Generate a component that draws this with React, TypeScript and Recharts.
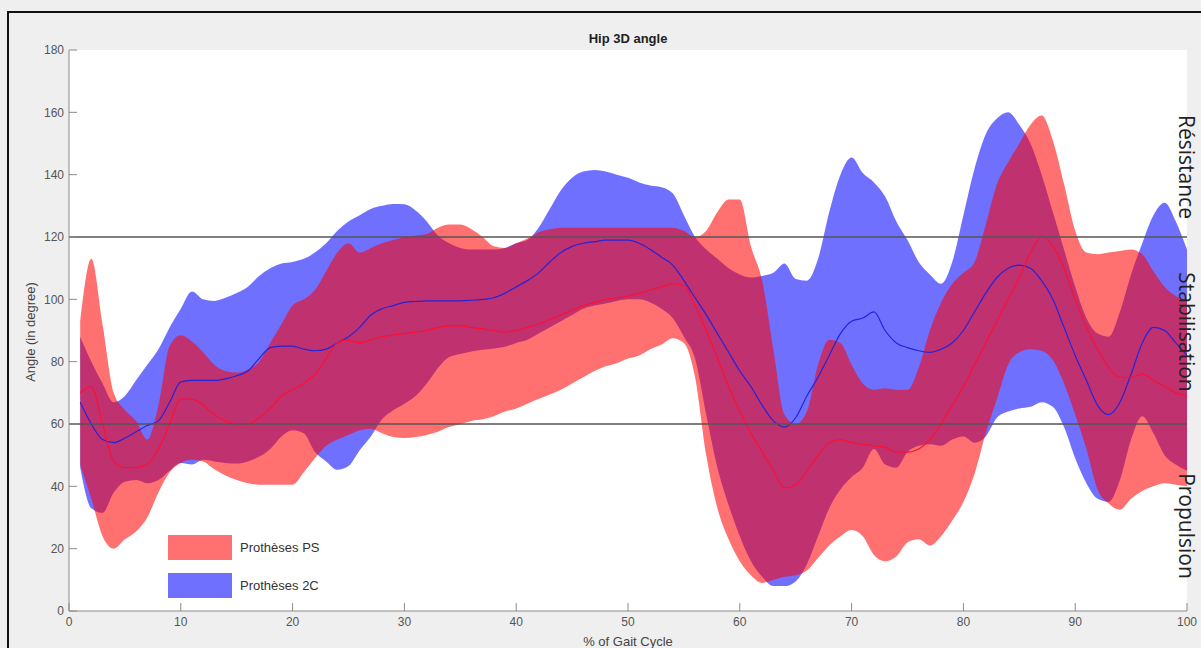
import React from 'react';
import {
  ComposedChart,
  Area,
  Line,
  XAxis,
  YAxis,
  CartesianGrid,
  ReferenceLine,
  Legend,
} from 'recharts';

// % of gait cycle
const pct = [
  1, 2, 3, 4, 5, 6, 7, 8, 9, 10,
  11, 12, 13, 14, 15, 16, 17, 18, 19, 20,
  21, 22, 23, 24, 25, 26, 27, 28, 29, 30,
  31, 32, 33, 34, 35, 36, 37, 38, 39, 40,
  41, 42, 43, 44, 45, 46, 47, 48, 49, 50,
  51, 52, 53, 54, 55, 56, 57, 58, 59, 60,
  61, 62, 63, 64, 65, 66, 67, 68, 69, 70,
  71, 72, 73, 74, 75, 76, 77, 78, 79, 80,
  81, 82, 83, 84, 85, 86, 87, 88, 89, 90,
  91, 92, 93, 94, 95, 96, 97, 98, 99, 100,
];

// Prothèses PS : upper / lower envelope and mean
const psHigh = [
  93, 113, 92, 70, 64.5, 61, 55, 66, 85, 88.5,
  86.5, 83, 79, 77, 76.5, 77.5, 80, 86, 92, 98,
  100, 103, 109, 115, 118, 115, 116.5, 118, 119, 120,
  120.5, 121, 123, 124, 124, 122.5, 120, 117, 116.5, 118,
  119.5, 121.5, 122.5, 123, 123, 123, 123, 123, 123, 123,
  123, 123, 123, 123, 122, 120, 122, 128, 132, 132,
  117, 106, 84, 63, 60, 64, 79, 87, 86, 79,
  73, 71, 71.5, 71, 71, 78, 90, 99, 105, 108.5,
  112, 124, 137, 144, 150, 156, 159, 151, 137, 122,
  115, 114.5, 115, 115.5, 116, 114.5, 109, 104, 101, 100,
];
const psLow = [
  47, 36, 24, 20, 23, 25.5, 30, 38, 44.5, 47.5,
  48.5, 48, 45.5, 43.5, 42, 41, 40.5, 40.5, 40.5, 40.5,
  44.5, 49, 53, 55, 56.5, 58, 58.5, 57, 55.8, 55.5,
  55.8, 56.5, 57.5, 59, 60, 61, 61.5, 62.5, 64, 65,
  66.5, 68, 69.5, 71, 73, 75, 77, 78.5, 79.5, 81,
  82, 84, 85.5, 87.5, 86, 75, 50, 33, 23, 16,
  11.5, 9, 10, 11, 11.5, 13, 17, 21, 24, 26,
  24, 18, 16, 17.5, 22, 23, 21, 24, 29, 35,
  44, 57, 68, 79, 83, 84, 83.5, 80.5, 73, 63,
  52, 39, 34.5, 32.5, 36, 38.5, 40, 41, 40.5, 40,
];
const psMean = [
  70, 72, 60, 48, 46, 46, 47, 52, 60, 68,
  68, 66, 63, 61, 60, 60, 62, 65, 69, 71,
  73, 76, 81, 86, 87, 86, 87, 88, 88.5, 89,
  89.5, 90, 91, 91.5, 91.5, 91, 90.5, 90, 89.5, 90,
  91, 92, 93.5, 95, 96.5, 98, 99, 100, 100.5, 101,
  102, 103, 104, 105, 104.5, 98, 90, 81, 72, 64,
  57, 51, 45, 39.5, 40.5, 45, 50, 54, 55, 54,
  53.5, 53, 52.5, 51, 51, 52, 55, 60, 66, 72,
  79, 86, 93, 100, 107, 115, 120, 117, 110, 100,
  91, 84, 78, 75, 75, 76, 74, 72, 70, 69,
];

// Prothèses 2C : upper / lower envelope and mean
const c2High = [
  88, 80, 73, 67, 69, 74, 79, 84, 91, 97,
  102.5, 100, 99.5, 100.5, 102, 104, 107.5, 110, 111.5, 112,
  113, 115, 118, 122, 125, 127, 129, 130, 130.6, 130.5,
  128.5, 125, 120.5, 118, 116.5, 116, 116, 116, 116.5, 118,
  119, 123, 129, 135, 139, 141, 141.5, 141, 140, 139,
  137.5, 136.5, 136, 134, 127, 120, 116, 113, 110, 108,
  107, 107.5, 108.5, 111.5, 106.5, 106, 113, 128, 140, 145.5,
  140.5, 137.5, 133, 125, 119, 112, 108, 105, 112, 127,
  142, 153, 158, 160, 156, 150, 140, 128, 116, 104,
  94, 89, 88, 96, 108, 118, 127, 131, 125, 116,
];
const c2Low = [
  46, 33, 31.5, 38, 41.5, 42, 41, 42, 45, 47.5,
  47, 48.5, 48, 47.5, 47.3, 48, 49.5, 52, 56, 58,
  57, 51, 48, 45.3, 46.5, 51.6, 56, 61.5, 64.4, 66.5,
  69, 73, 78, 81.5, 82.5, 83.3, 83.8, 84.2, 84.8, 86,
  87, 89, 91, 93, 95, 97, 98, 98.7, 99.5, 100,
  100, 99, 97, 94, 88, 81, 63, 46, 34, 24,
  16, 11, 8, 8, 9.5, 15, 24, 33, 39, 43,
  46, 52, 47, 46, 51, 53, 53.5, 53, 55, 56,
  54, 56, 62, 64, 65, 65.5, 67, 65.5, 59, 49,
  41, 36, 35, 42, 55, 62.5, 57, 50, 47, 45,
];
const c2Mean = [
  67, 60, 55, 54, 55.5, 57.5, 59.5, 61, 67, 73.5,
  74, 74, 74, 74.5, 75.5, 77, 81, 84.5, 85, 85,
  84, 83.5, 84, 86, 88, 91, 95, 97, 98, 99,
  99.3, 99.5, 99.5, 99.5, 99.5, 99.7, 100, 100.5, 102, 104,
  106, 108.5, 112, 115, 117, 118, 118.5, 119, 119, 119,
  118, 116, 113.5, 111, 106, 100.5, 95, 89, 83, 77,
  72, 66, 61, 59, 62, 69, 75, 82, 89, 93,
  94, 96, 90, 86, 84.5, 83.5, 83, 84, 86, 90,
  96, 102, 107, 110, 111, 110, 106, 100, 91, 82,
  74, 66, 63, 67, 76, 86, 91, 90, 86, 82,
];

const xTicks = [0, 10, 20, 30, 40, 50, 60, 70, 80, 90, 100];
const yTicks = [0, 20, 40, 60, 80, 100, 120, 140, 160, 180];
const phaseLines = [120, 60];
const phases = [
  { label: 'Résistance', y: 167 },
  { label: 'Stabilisation', y: 332 },
  { label: 'Propulsion', y: 526 },
];

const PS_COLOR = '#ff0000';
const C2_COLOR = '#0000ff';

const data = pct.map((p, i) => ({
  pct: p,
  psRange: [psLow[i], psHigh[i]],
  c2Range: [c2Low[i], c2High[i]],
  psMean: psMean[i],
  c2Mean: c2Mean[i],
}));

const tickStyle = { fill: '#555', fontSize: 12 };

function LegendBox(props: any) {
  const items = (props.payload || []).filter((p: any) => p.type !== 'none');
  return (
    <div>
      {items.map((item: any) => (
        <div key={item.value} style={{ display: 'flex', alignItems: 'center', height: 25, marginBottom: 13 }}>
          <div
            style={{
              width: 64,
              height: 25,
              background: item.dataKey === 'psRange' ? PS_COLOR : C2_COLOR,
              opacity: 0.56,
            }}
          />
          <span style={{ marginLeft: 8, fontSize: 13, color: '#333' }}>{item.value}</span>
        </div>
      ))}
    </div>
  );
}

export default function App() {
  return (
    <div
      style={{
        position: 'relative',
        width: 1201,
        height: 648,
        overflow: 'hidden',
        background: '#efefef',
        fontFamily: '"Liberation Sans", Arial, sans-serif',
      }}
    >
      <style>{'body { margin: 0; }'}</style>
      <div
        style={{
          position: 'absolute',
          left: 7,
          top: 11,
          width: 1300,
          height: 800,
          borderLeft: '2px solid #111',
          borderTop: '2px solid #111',
        }}
      />
      <ComposedChart
        width={1201}
        height={648}
        data={data}
        margin={{ top: 50, right: 14, bottom: 12, left: 29 }}
      >
        <CartesianGrid horizontal={false} vertical={false} fill="#ffffff" />
        <XAxis
          dataKey="pct"
          type="number"
          domain={[0, 100]}
          ticks={xTicks}
          height={25}
          tick={tickStyle}
          tickSize={-8}
          tickMargin={14}
          axisLine={{ stroke: '#8a8a8a' }}
          tickLine={{ stroke: '#8a8a8a' }}
          allowDataOverflow
        />
        <YAxis
          type="number"
          domain={[0, 180]}
          ticks={yTicks}
          width={40}
          tick={tickStyle}
          tickSize={-8}
          tickMargin={13}
          axisLine={{ stroke: '#8a8a8a' }}
          tickLine={{ stroke: '#8a8a8a' }}
          allowDataOverflow
        />
        <Area
          type="monotone"
          dataKey="c2Range"
          name="Prothèses 2C"
          stroke="none"
          fill={C2_COLOR}
          fillOpacity={0.56}
          isAnimationActive={false}
        />
        <Line
          type="monotone"
          dataKey="c2Mean"
          stroke="#2424d8"
          strokeWidth={1.2}
          dot={false}
          legendType="none"
          isAnimationActive={false}
        />
        <Area
          type="monotone"
          dataKey="psRange"
          name="Prothèses PS"
          stroke="none"
          fill={PS_COLOR}
          fillOpacity={0.56}
          isAnimationActive={false}
        />
        <Line
          type="monotone"
          dataKey="psMean"
          stroke="#ff1030"
          strokeWidth={1.2}
          dot={false}
          legendType="none"
          isAnimationActive={false}
        />
        {phaseLines.map((v) => (
          <ReferenceLine key={v} y={v} stroke="#555" strokeWidth={1.5} />
        ))}
        <Legend
          layout="vertical"
          align="center"
          verticalAlign="middle"
          wrapperStyle={{ left: 168, top: 535, width: 220, height: 80 }}
          content={<LegendBox />}
          itemSorter={(item: any) => (item.dataKey === 'psRange' ? 0 : 1)}
        />
      </ComposedChart>
      <svg
        width={1201}
        height={648}
        style={{ position: 'absolute', left: 0, top: 0, pointerEvents: 'none' }}
      >
        <text x={628} y={38} textAnchor="middle" dominantBaseline="central" fontSize={13} fontWeight="bold" fill="#222">
          Hip 3D angle
        </text>
        <text x={628} y={646} textAnchor="middle" fontSize={13} fill="#444">
          % of Gait Cycle
        </text>
        <text
          transform="translate(30,332) rotate(-90)"
          textAnchor="middle"
          dominantBaseline="central"
          fontSize={13}
          fill="#444"
        >
          Angle (in degree)
        </text>
        {phases.map((p) => (
          <text
            key={p.label}
            transform={`translate(1179,${p.y}) rotate(90)`}
            textAnchor="middle"
            fontSize={21}
            fontFamily='"Open Sans", sans-serif'
            fill="#222"
          >
            {p.label}
          </text>
        ))}
      </svg>
    </div>
  );
}
